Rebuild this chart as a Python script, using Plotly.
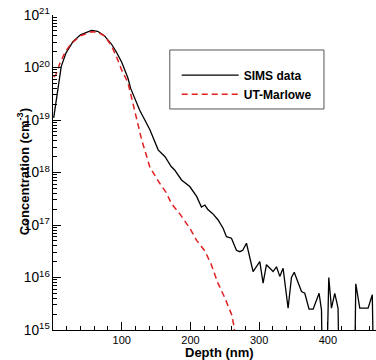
import plotly.graph_objects as go

# SIMS data (depth nm, concentration cm^-3)
sims_depth = [1, 12, 19, 29, 40, 56, 65, 75, 85, 92, 100, 109, 113, 126, 141, 153, 163, 172, 177,
              187, 199, 209, 216, 221, 225, 232, 240, 247.5, 252.4, 259.7, 266.9, 271.8, 276.1,
              281.5, 291.1, 300.9, 305.7, 310.6, 320.2, 325.2, 330, 334.8, 342.1, 347, 351,
              356.6, 361.6, 366.4, 372.6, 378.5, 387.2, 390.7, 391.6, 398.8, 401.3, 405.2, 410,
              414.8, 415.9, 439.2, 440.6, 446.4, 458.5, 464.6, 466.1, 470]
sims_conc = [1.1e19, 1.05e20, 1.9e20, 3.1e20, 4.2e20, 5.1e20, 4.9e20, 4.0e20, 2.8e20, 2.0e20,
             1.26e20, 6.3e19, 4.0e19, 1.55e19, 6.5e18, 2.7e18, 2.0e18, 1.3e18, 1.12e18,
             7.2e17, 5.4e17, 3.5e17, 2.2e17, 2.4e17, 2.0e17, 1.66e17, 1.26e17, 8.7e16, 6.0e16,
             5.6e16, 3.3e16, 3.1e16, 3.3e16, 4.5e16, 1.3e16, 2.0e16, 7.8e15, 1.75e16, 1.3e16,
             1.6e16, 1.05e16, 1.5e16, 2.6e15, 1.0e16, 1.26e16, 7.8e15, 5.4e15, 5.0e15, 2.5e15,
             2.5e15, 5.0e15, 2.4e15, 3e14, 3e14, 1.0e16, 2.6e15, 5.0e15, 2.6e15, 3e14, 3e14,
             7.6e15, 2.6e15, 2.6e15, 4.7e15, 3e14, 3e14]

# UT-Marlowe simulation
ut_depth = [1, 4, 10, 18, 27, 40, 56, 65, 75, 85, 92, 100, 109, 119, 129, 141, 155, 165, 172,
            184, 199, 209, 221, 230, 240, 250, 260, 263.5, 266]
ut_conc = [6.6e19, 7.2e19, 1.2e20, 2.0e20, 2.9e20, 4.0e20, 4.8e20, 4.7e20, 4.0e20, 2.6e20,
           1.66e20, 8.9e19, 5.2e19, 1.55e19, 4.2e18, 1.26e18, 6.3e17, 4.1e17, 2.6e17,
           1.66e17, 8.7e16, 5.1e16, 3.2e16, 1.8e16, 7.8e15, 4.1e15, 1.95e15, 1.15e15, 6e14]

x_ticks = [100, 200, 300, 400]
x_range = [0, 470]
y_range_log = [15, 21]

FONT = "Arial, Liberation Sans, sans-serif"

fig = go.Figure()
fig.add_trace(go.Scatter(x=sims_depth, y=sims_conc, mode="lines", name="SIMS data",
                         line=dict(color="black", width=1.3)))
fig.add_trace(go.Scatter(x=ut_depth, y=ut_conc, mode="lines", name="UT-Marlowe",
                         line=dict(color="#e02020", width=1.5, dash="6px,4px")))

fig.update_layout(
    width=376, height=360,
    margin=dict(l=53, r=0, t=15, b=30, autoexpand=False),
    paper_bgcolor="white", plot_bgcolor="white",
    font=dict(family=FONT, size=12, color="black"),
    showlegend=True,
    legend=dict(x=0.383, y=0.855, xanchor="left", yanchor="top",
                bgcolor="rgba(0,0,0,0)", borderwidth=0, itemwidth=57,
                font=dict(family=FONT, size=12, color="black", weight="bold"),
                tracegroupgap=0),
    shapes=[dict(type="rect", xref="paper", yref="paper",
                 x0=0.3616, x1=0.8389, y0=0.7016, y1=0.8889,
                 line=dict(color="#555555", width=1), fillcolor="rgba(0,0,0,0)")],
    annotations=[
        dict(text="<b>Depth (nm)</b>", xref="paper", yref="paper", x=0.5166, y=-0.07,
             xanchor="center", yanchor="middle", showarrow=False,
             font=dict(family=FONT, size=13, color="black")),
        dict(text="<b>Concentration (cm<sup>-3</sup>)</b>", xref="paper", yref="paper",
             x=-0.092, y=0.5016, xanchor="center", yanchor="middle", showarrow=False,
             textangle=-90, font=dict(family=FONT, size=13, color="black")),
    ],
)

fig.update_xaxes(range=x_range, tickvals=x_ticks, ticks="inside", ticklen=8, tickcolor="black",
                 showline=True, linecolor="black", linewidth=1, showgrid=False, zeroline=False,
                 automargin=False,
                 tickfont=dict(family=FONT, size=11, color="black"),
                 minor=dict(ticks="inside", ticklen=4, dtick=20, tickcolor="black", showgrid=False))
fig.update_yaxes(type="log", range=y_range_log, dtick=1, exponentformat="power",
                 ticks="inside", ticklen=8, tickcolor="black", automargin=False,
                 showline=True, linecolor="black", linewidth=1, showgrid=False, zeroline=False,
                 tickfont=dict(family=FONT, size=11, color="black"),
                 minor=dict(ticks="inside", ticklen=4, dtick="D1", tickcolor="black", showgrid=False))

fig.write_html("out.html", config={"displayModeBar": False},
               post_script="document.body.style.margin='0';document.body.style.padding='0';")
